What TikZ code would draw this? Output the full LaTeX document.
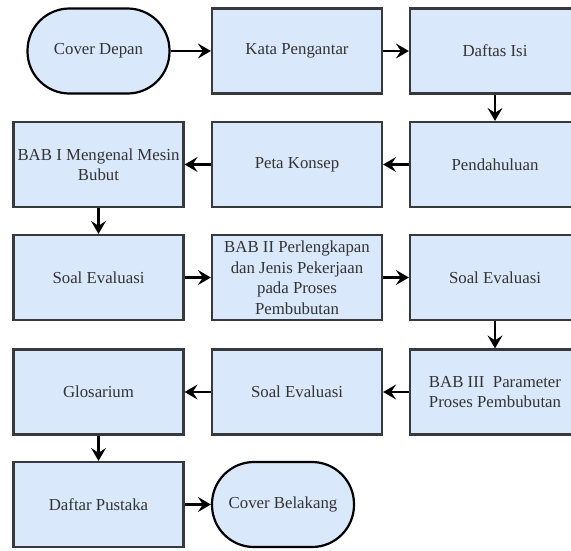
\documentclass[tikz,border=0pt]{standalone}
\usepackage{fontspec}
\setmainfont{Liberation Serif}
\usetikzlibrary{arrows.meta}
\definecolor{boxfill}{HTML}{DAE8FC}
\definecolor{boxline}{HTML}{36393D}
\definecolor{txtgray}{HTML}{333333}
\begin{document}
\begin{tikzpicture}[x=1pt, y=-1pt,
    box/.style={draw=boxline, line width=2.2pt, fill=boxfill, minimum width=170pt,
        minimum height=85pt, inner sep=2pt, align=center, text=txtgray,
        font=\fontsize{16.8}{20.5}\selectfont},
    term/.style={box, draw=black, rounded corners=42pt, minimum width=142pt},
    arr/.style={-{Stealth[length=13pt, width=15pt, inset=5pt]}, line width=2.2pt}]
                \useasboundingbox (0,0) rectangle (571,550);

                % row 1
                \node[term] (cover) at (98.5, 51) {Cover Depan};
                \node[box] (kata) at (297, 51) {Kata Pengantar};
                \node[box] (daftar) at (495, 51) {Daftas Isi};

                % row 2
                \node[box] (bab1) at (98.5, 164.5) {BAB I Mengenal Mesin\\Bubut};
                \node[box] (peta) at (297, 164.5) {Peta Konsep};
                \node[box] (pendahuluan) at (495, 164.5) {Pendahuluan};

                % row 3
                \node[box] (soal1) at (98.5, 277.5) {Soal Evaluasi};
                \node[box] (bab2) at (297, 277.5) {BAB II Perlengkapan\\dan Jenis Pekerjaan\\pada Proses\\Pembubutan};
                \node[box] (soal2) at (495, 277.5) {Soal Evaluasi};

                % row 4
                \node[box] (glosarium) at (98.5, 392) {Glosarium};
                \node[box] (soal3) at (297, 392) {Soal Evaluasi};
                \node[box] (bab3) at (495, 392) {BAB III\ \ Parameter\\Proses Pembubutan};

                % row 5
                \node[box] (pustaka) at (98.5, 504.5) {Daftar Pustaka};
                \node[term] (belakang) at (283, 504.5) {Cover Belakang};

                \draw[arr] (cover) -- (kata);
                \draw[arr] (kata) -- (daftar);
                \draw[arr] (daftar) -- (pendahuluan);
                \draw[arr] (pendahuluan) -- (peta);
                \draw[arr] (peta) -- (bab1);
                \draw[arr] (bab1) -- (soal1);
                \draw[arr] (soal1) -- (bab2);
                \draw[arr] (bab2) -- (soal2);
                \draw[arr] (soal2) -- (bab3);
                \draw[arr] (bab3) -- (soal3);
                \draw[arr] (soal3) -- (glosarium);
                \draw[arr] (glosarium) -- (pustaka);
                \draw[arr] (pustaka) -- (belakang);
            \end{tikzpicture}
\end{document}
